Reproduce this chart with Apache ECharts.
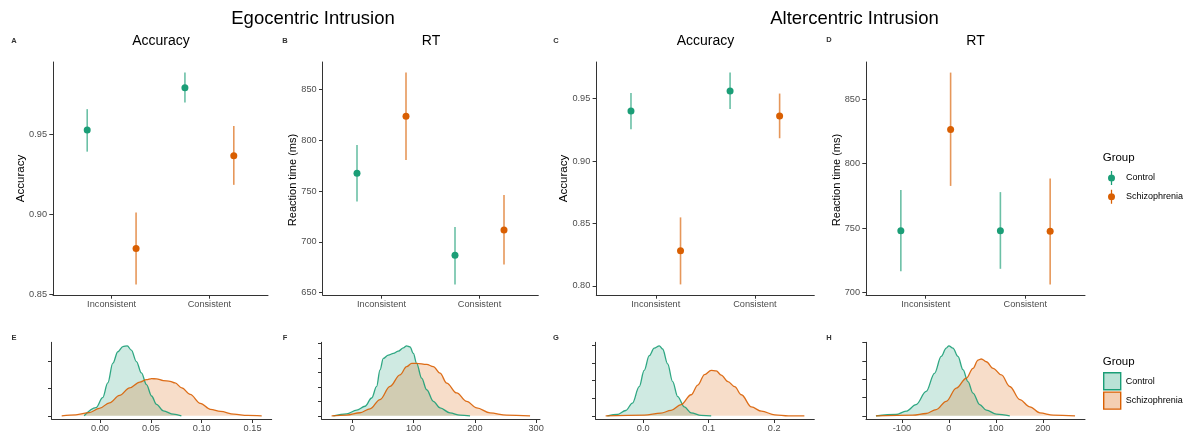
<!DOCTYPE html>
<html><head><meta charset="utf-8">
<script src="https://cdn.jsdelivr.net/npm/echarts@6/dist/echarts.min.js"></script>
<style>html,body{margin:0;padding:0;background:#fff}#c{width:1195px;height:441px}</style>
</head><body><div id="c"></div>
<script>
// ---------- DATA ----------
const conditions = ['Inconsistent', 'Consistent'];
const groups = ['Control', 'Schizophrenia'];

// [mean, lower, upper] per condition (Inconsistent, Consistent)
const egoAccControl = [[0.9525, 0.9390, 0.9655], [0.9788, 0.9697, 0.9883]];
const egoAccSchizo  = [[0.8786, 0.8562, 0.9011], [0.9365, 0.9183, 0.9550]];
const egoRtControl  = [[767.6, 739.8, 795.4], [686.9, 658.1, 714.7]];
const egoRtSchizo   = [[823.8, 780.7, 866.7], [711.8, 677.7, 746.1]];
const altAccControl = [[0.9401, 0.9254, 0.9545], [0.9561, 0.9417, 0.9708]];
const altAccSchizo  = [[0.8280, 0.8011, 0.8548], [0.9361, 0.9182, 0.9540]];
const altRtControl  = [[747.9, 716.5, 779.6], [747.9, 718.4, 777.9]];
const altRtSchizo   = [[826.5, 782.7, 870.6], [747.6, 706.3, 788.4]];

const accTicksEgo = [0.85, 0.90, 0.95];
const rtTicksEgo  = [650, 700, 750, 800, 850];
const accTicksAlt = [0.80, 0.85, 0.90, 0.95];
const rtTicksAlt  = [700, 750, 800, 850];

// density curves [x, density]
const egoAccDensControl = [[-0.0156,0],[-0.004,0.30],[0.0026,0.67],[0.0076,1.21],[0.0126,1.94],[0.0175,2.36],[0.0225,2.55],[0.0268,2.58],[0.0308,2.42],[0.0358,2.0],[0.0407,1.58],[0.0457,1.15],[0.0507,0.73],[0.0556,0.42],[0.0623,0.18],[0.0722,0.06],[0.080,0]];
const egoAccDensSchizo = [[-0.0377,0],[-0.0238,0.036],[-0.0106,0.12],[-0.0007,0.27],[0.0093,0.48],[0.0192,0.75],[0.0291,1.03],[0.0391,1.24],[0.0457,1.33],[0.0507,1.37],[0.0556,1.36],[0.0622,1.30],[0.0689,1.27],[0.0738,1.21],[0.0804,1.03],[0.0887,0.79],[0.0986,0.46],[0.1086,0.24],[0.1185,0.16],[0.1317,0.06],[0.145,0.012],[0.159,0]];
const egoRtDensControl = [[-31,0],[-9.3,0.14],[7.1,0.39],[20.7,0.66],[31.6,1.23],[39.7,2.03],[45.2,3.17],[50.6,3.97],[58.8,4.2],[67,4.31],[75.1,4.47],[83.3,4.7],[88.7,4.84],[94.2,4.77],[99.6,4.31],[105,3.63],[113.2,2.6],[121.4,1.8],[132.3,1.0],[143.2,0.55],[159.5,0.2],[175.8,0.046],[192.2,0]];
const egoRtDensSchizo = [[-33.8,0],[-9.3,0.046],[12.5,0.21],[28.9,0.48],[45.2,1.12],[61.5,2.03],[77.8,2.83],[88.7,3.4],[96.9,3.63],[105,3.63],[121.4,3.56],[132.3,3.4],[143.2,2.95],[154.1,2.26],[170.4,1.58],[186.7,1.0],[203.1,0.55],[224.8,0.2],[252,0.046],[290.2,0]];
const altAccDensControl = [[-0.0547,0],[-0.0394,0.074],[-0.0266,0.30],[-0.0164,0.72],[-0.0061,1.65],[0.0015,2.57],[0.0092,3.4],[0.0169,3.83],[0.0246,3.96],[0.0297,3.78],[0.0373,2.94],[0.045,1.93],[0.0527,1.09],[0.0629,0.5],[0.0731,0.17],[0.0885,0.02],[0.1038,0]];
const altAccDensSchizo = [[-0.0573,0],[0.0015,0.037],[0.0271,0.148],[0.0425,0.31],[0.0578,0.63],[0.0731,1.19],[0.0834,1.74],[0.0936,2.33],[0.1038,2.57],[0.1115,2.54],[0.1192,2.3],[0.1294,1.93],[0.1396,1.65],[0.1499,1.19],[0.1652,0.5],[0.1806,0.26],[0.201,0.056],[0.2215,0],[0.246,0]];
const altRtDensControl = [[-155.4,0],[-112.6,0.072],[-91.2,0.25],[-69.9,0.61],[-48.5,1.33],[-30.7,2.32],[-16.4,3.24],[-5.7,3.69],[0,3.82],[8.6,3.69],[19.3,3.24],[29.9,2.52],[40.6,1.87],[51.3,1.24],[65.6,0.61],[79.8,0.31],[101.2,0.09],[129.7,0]];
const altRtDensSchizo = [[-155.4,0],[-77,0.036],[-48.5,0.126],[-27.1,0.34],[-5.7,0.79],[15.7,1.51],[37.1,2.05],[51.3,2.59],[62,3.04],[69.1,3.1],[79.8,2.95],[94.1,2.59],[111.9,2.23],[129.7,1.6],[151.1,0.88],[172.5,0.49],[193.9,0.16],[222.4,0.036],[268.7,0]];

const egoAccDiffTicks = [0, 0.05, 0.10, 0.15];
const egoRtDiffTicks  = [0, 100, 200, 300];
const altAccDiffTicks = [0, 0.1, 0.2];
const altRtDiffTicks  = [-100, 0, 100, 200];

// ---------- STYLE / LAYOUT ----------
const FONT = '"Liberation Sans", Arial, Helvetica, sans-serif';
const GREEN = '#1B9E77', ORANGE = '#D95F02';
const AXC = '#333333', LBC = '#4D4D4D';
const DODGE = 0.25;

function expand(lo, hi) { const r = hi - lo; return [lo - 0.05 * r, hi + 0.05 * r]; }

const topPanels = [
  {left: 53,    width: 215,   c: egoAccControl, s: egoAccSchizo, ticks: accTicksEgo, dec: 2},
  {left: 322.7, width: 215.6, c: egoRtControl,  s: egoRtSchizo,  ticks: rtTicksEgo,  dec: 0},
  {left: 596.3, width: 218,   c: altAccControl, s: altAccSchizo, ticks: accTicksAlt, dec: 2},
  {left: 866,   width: 219,   c: altRtControl,  s: altRtSchizo,  ticks: rtTicksAlt,  dec: 0}
];
const botPanels = [
  {left: 51.7,  width: 220,   c: egoAccDensControl, s: egoAccDensSchizo, ticks: egoAccDiffTicks, dec: 2, yt: [0,1,2]},
  {left: 321.7, width: 218.3, c: egoRtDensControl,  s: egoRtDensSchizo,  ticks: egoRtDiffTicks,  dec: 0, yt: [0,1,2,3,4,5]},
  {left: 595.7, width: 218.6, c: altAccDensControl, s: altAccDensSchizo, ticks: altAccDiffTicks, dec: 1, yt: [0,1,2,3,4]},
  {left: 866,   width: 219,   c: altRtDensControl,  s: altRtDensSchizo,  ticks: altRtDiffTicks,  dec: 0, yt: [0,1,2,3,4]}
];

const grid = [], xAxis = [], yAxis = [], series = [];
const axisLine = {show: true, onZero: false, lineStyle: {color: AXC, width: 1}};
const tickStyle = {color: AXC, width: 1};
const lblStyle = {fontSize: 9.2, color: LBC, fontFamily: FONT};

function errRender(color) {
  return function (params, api) {
    const a = api.coord([api.value(0), api.value(1)]);
    const b = api.coord([api.value(0), api.value(2)]);
    return {type: 'line', shape: {x1: a[0], y1: a[1], x2: b[0], y2: b[1]},
      style: {stroke: color, lineWidth: 1.6, opacity: 0.65}};
  };
}

topPanels.forEach((p, i) => {
  grid.push({left: p.left, top: 62, width: p.width, height: 233, outerBoundsMode: 'none', containLabel: false});
  const all = p.c.concat(p.s).flat();
  const [ymin, ymax] = expand(Math.min(...all), Math.max(...all));
  xAxis.push({gridIndex: i, type: 'value', min: 0.4, max: 2.6, axisLine,
    axisTick: {show: true, customValues: [1, 2], length: 3.7, lineStyle: tickStyle},
    axisLabel: {show: true, customValues: [1, 2], formatter: v => conditions[Math.round(v) - 1], margin: 5, ...lblStyle},
    splitLine: {show: false}});
  yAxis.push({gridIndex: i, type: 'value', min: ymin, max: ymax, axisLine,
    axisTick: {show: true, customValues: p.ticks, length: 3.7, lineStyle: tickStyle},
    axisLabel: {show: true, customValues: p.ticks, formatter: v => v.toFixed(p.dec), margin: 6, ...lblStyle},
    splitLine: {show: false}});
  [[p.c, groups[0], GREEN, -DODGE], [p.s, groups[1], ORANGE, DODGE]].forEach(([d, name, col, off]) => {
    series.push({type: 'scatter', name, xAxisIndex: i, yAxisIndex: i, z: 3, symbolSize: 7,
      itemStyle: {color: col, opacity: 1}, data: d.map((r, k) => [k + 1 + off, r[0]]), silent: true});
  });
  [[p.c, groups[0], GREEN, -DODGE], [p.s, groups[1], ORANGE, DODGE]].forEach(([d, name, col, off]) => {
    series.push({type: 'custom', name, xAxisIndex: i, yAxisIndex: i, z: 2, renderItem: errRender(col),
      encode: {x: 0, y: [1, 2]}, data: d.map((r, k) => [k + 1 + off, r[1], r[2]]), silent: true});
  });
});

botPanels.forEach((p, j) => {
  const i = j + 4;
  grid.push({left: p.left, top: 342.3, width: p.width, height: 77, outerBoundsMode: 'none', containLabel: false});
  const xs = p.c.concat(p.s).map(r => r[0]);
  const ys = p.c.concat(p.s).map(r => r[1]);
  const [xmin, xmax] = expand(Math.min(...xs), Math.max(...xs));
  const [ymin, ymax] = expand(0, Math.max(...ys));
  xAxis.push({gridIndex: i, type: 'value', min: xmin, max: xmax, axisLine,
    axisTick: {show: true, customValues: p.ticks, length: 3.7, lineStyle: tickStyle},
    axisLabel: {show: true, customValues: p.ticks, formatter: v => v.toFixed(p.dec), margin: 5, ...lblStyle},
    splitLine: {show: false}});
  yAxis.push({gridIndex: i, type: 'value', min: ymin, max: ymax, axisLine,
    axisTick: {show: true, customValues: p.yt, length: 3.7, lineStyle: tickStyle},
    axisLabel: {show: false}, splitLine: {show: false}});
  [[p.c, groups[0], GREEN, 'rgba(27,158,119,0.3)'], [p.s, groups[1], ORANGE, 'rgba(217,95,2,0.3)']].forEach(([d, name, col, fill]) => {
    series.push({type: 'line', name, xAxisIndex: i, yAxisIndex: i, data: d, symbol: 'none', showSymbol: false,
      smooth: 0.35, smoothMonotone: 'x', lineStyle: {color: col, width: 1.3, opacity: 0.9},
      itemStyle: {color: col}, areaStyle: {color: fill}, silent: true});
  });
});

const PT_ICON = 'path://M1,1 A1,1 0 1,1 1,3 A1,1 0 1,1 1,1 Z M0.82,0 L1.18,0 L1.18,4 L0.82,4 Z';

function txt(text, x, y, size, opts) {
  return {type: 'text', x, y, silent: true,
    style: Object.assign({text, fontSize: size, fontFamily: FONT, fill: '#000', textAlign: 'center', textVerticalAlign: 'middle'}, opts || {})};
}
function vtxt(text, x, y, size) {
  const t = txt(text, x, y, size);
  t.rotation = Math.PI / 2;
  return t;
}
const letter = (t, x, y) => txt(t, x, y, 7.5, {fontWeight: 'bold', fill: '#333'});

const graphic = [
  txt('Egocentric Intrusion', 313, 19, 18.5),
  txt('Altercentric Intrusion', 854.5, 19, 18.5),
  txt('Accuracy', 161, 41, 14), txt('RT', 431, 41, 14),
  txt('Accuracy', 705.5, 41, 14), txt('RT', 975.5, 41, 14),
  letter('A', 14, 41), letter('B', 285, 41), letter('C', 556, 41), letter('D', 829, 40),
  letter('E', 14, 338), letter('F', 285, 338), letter('G', 556, 338), letter('H', 829, 338),
  vtxt('Accuracy', 20.7, 178.5, 11.5), vtxt('Reaction time (ms)', 293.3, 180, 11),
  vtxt('Accuracy', 564, 178.5, 11.5), vtxt('Reaction time (ms)', 836.7, 180, 11),
  txt('Group', 1102.7, 158, 11.5, {textAlign: 'left'}),
  txt('Group', 1102.7, 362, 11.5, {textAlign: 'left'})
];

const legend = [
  {orient: 'vertical', left: 1108, top: 171, padding: 0, itemWidth: 7, itemHeight: 14, itemGap: 4.7, selectedMode: false,
   textStyle: {fontSize: 9, color: '#000', fontFamily: FONT, padding: [0, 0, 0, 6]},
   data: [{name: groups[0], icon: PT_ICON, itemStyle: {color: GREEN, borderWidth: 0}},
          {name: groups[1], icon: PT_ICON, itemStyle: {color: ORANGE, borderWidth: 0}}]},
  {orient: 'vertical', left: 1103, top: 372, padding: 0, itemWidth: 17, itemHeight: 17, itemGap: 1, selectedMode: false,
   textStyle: {fontSize: 9, color: '#000', fontFamily: FONT},
   data: [{name: groups[0], icon: 'rect', itemStyle: {color: 'rgba(27,158,119,0.3)', borderColor: GREEN, borderWidth: 1.4}},
          {name: groups[1], icon: 'rect', itemStyle: {color: 'rgba(217,95,2,0.3)', borderColor: ORANGE, borderWidth: 1.4}}]}
];

const chart = echarts.init(document.getElementById('c'), null, {renderer: 'canvas'});
chart.setOption({animation: false, backgroundColor: '#fff', textStyle: {fontFamily: FONT},
  grid, xAxis, yAxis, series, graphic, legend, tooltip: {show: false}});
</script></body></html>
